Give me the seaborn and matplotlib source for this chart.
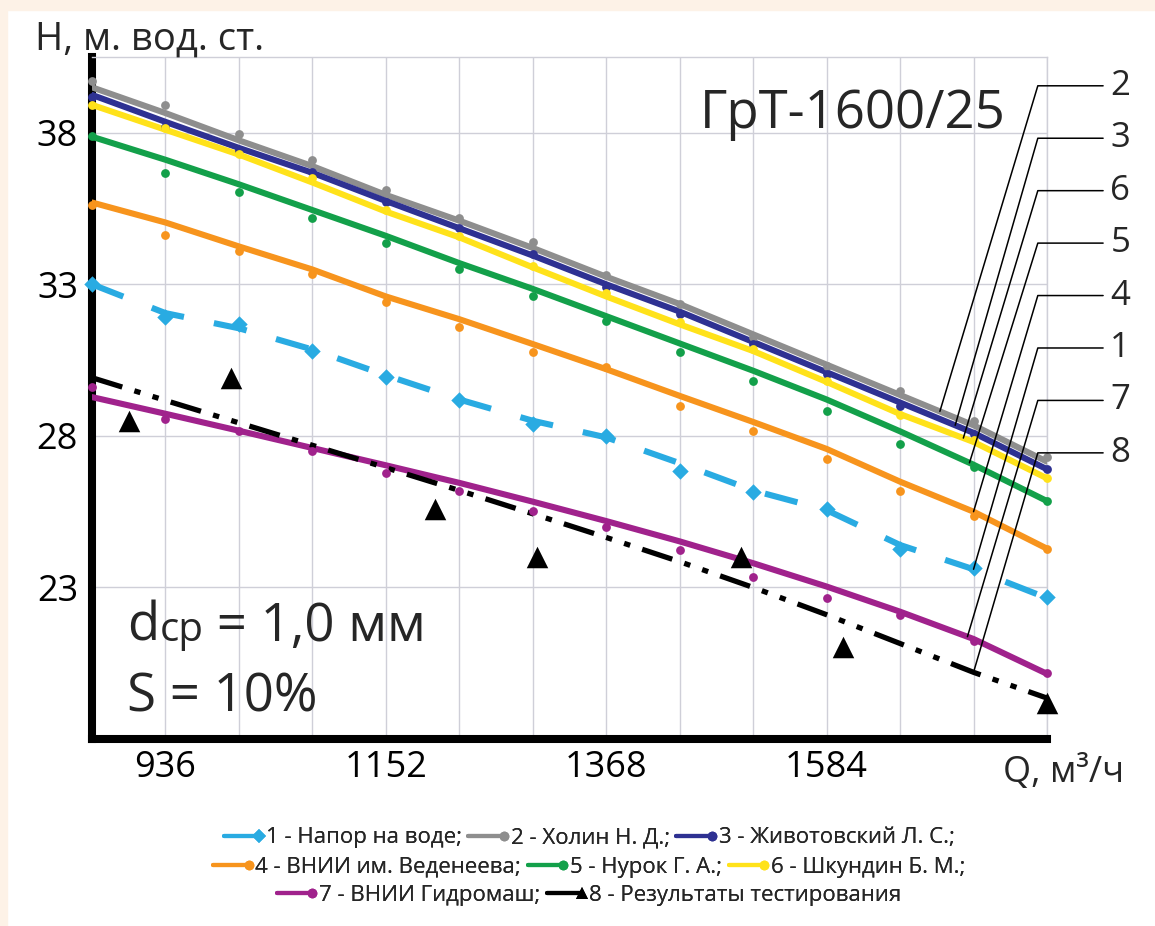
import numpy as np
import seaborn as sns
import matplotlib.pyplot as plt
from matplotlib.lines import Line2D
from matplotlib.legend_handler import HandlerLine2D
from matplotlib.patches import Rectangle
from matplotlib.offsetbox import TextArea, HPacker, AnchoredOffsetbox
from matplotlib.ticker import MultipleLocator

# подача, м3/ч
q = [864, 936, 1008, 1080, 1152, 1224, 1296, 1368, 1440, 1512, 1584, 1656, 1728, 1800]

# точки (маркеры)
pts1 = [33.0, 31.91, 31.68, 30.8, 29.94, 29.2, 28.39, 28.0, 26.85, 26.16, 25.6, 24.28, 23.65, 22.7]
pts2 = [39.7, 38.92, 37.95, 37.11, 36.1, 35.2, 34.41, 33.3, 32.34, 31.26, 30.3, 29.48, 28.49, 27.31]
pts3 = [39.18, 38.2, 37.44, 36.72, 35.73, 34.87, 33.99, 32.9, 32.01, 31.03, 30.04, 28.99, 28.07, 26.91]
pts4 = [35.63, 34.64, 34.09, 33.33, 32.43, 31.59, 30.76, 30.27, 28.99, 28.17, 27.24, 26.19, 25.37, 24.28]
pts5 = [37.9, 36.68, 36.03, 35.2, 34.38, 33.49, 32.6, 31.78, 30.76, 29.81, 28.82, 27.74, 26.98, 25.86]
pts6 = [38.92, 38.15, 37.3, 36.52, 35.45, 34.6, 33.6, 32.7, 31.75, 30.86, 29.8, 28.7, 27.85, 26.6]
pts7 = [29.6, 28.56, 28.16, 27.5, 26.78, 26.17, 25.53, 25.0, 24.22, 23.36, 22.64, 22.08, 21.22, 20.17]

# линии (аппроксимация)
line1 = [33.0, 32.05, 31.55, 30.85, 30.0, 29.2, 28.5, 27.95, 27.1, 26.2, 25.55, 24.4, 23.6, 22.65]
line2 = [39.5, 38.65, 37.75, 36.9, 35.95, 35.1, 34.2, 33.25, 32.35, 31.35, 30.35, 29.35, 28.35, 27.15]
line3 = [39.25, 38.36, 37.5, 36.68, 35.75, 34.85, 33.95, 33.0, 32.1, 31.1, 30.1, 29.1, 28.1, 26.9]
line4 = [35.7, 35.04, 34.25, 33.49, 32.6, 31.85, 31.03, 30.2, 29.32, 28.46, 27.57, 26.49, 25.5, 24.28]
line5 = [37.87, 37.11, 36.3, 35.45, 34.6, 33.7, 32.85, 31.95, 31.05, 30.15, 29.2, 28.15, 27.05, 25.85]
line6 = [38.92, 38.1, 37.28, 36.36, 35.4, 34.55, 33.56, 32.6, 31.68, 30.8, 29.78, 28.72, 27.8, 26.6]
line7 = [29.28, 28.73, 28.17, 27.6, 27.03, 26.45, 25.83, 25.19, 24.52, 23.8, 23.03, 22.2, 21.3, 20.15]
line8 = [29.92, 29.17, 28.43, 27.69, 26.95, 26.2, 25.43, 24.65, 23.85, 23.0, 22.1, 21.15, 20.2, 19.35]

# результаты тестирования
q8 = [900, 1000, 1200, 1300, 1500, 1600, 1800]
pts8 = [28.5, 29.9, 25.6, 24.0, 24.0, 21.05, 19.2]

labels = ['1 - Напор на воде;', '2 - Холин Н. Д.;', '3 - Животовский Л. С.;',
          '4 - ВНИИ им. Веденеева;', '5 - Нурок Г. А.;', '6 - Шкундин Б. М.;',
          '7 - ВНИИ Гидромаш;', '8 - Результаты тестирования']
colors = ['#29abe2', '#8e8e8e', '#2e3192', '#f7941d', '#13a04a', '#ffe21a', '#a0228c', '#000000']

sns.set_theme(style='white')
plt.rcParams['font.family'] = ['Open Sans', 'DejaVu Sans']

fig = plt.figure(figsize=(11.55, 9.26), dpi=100)
fig.patch.set_facecolor('white')
# кремовая рамка слева и сверху
fig.patches.append(Rectangle((0, 0), 7 / 1155, 1, transform=fig.transFigure, color='#fdf2e7', zorder=0))
fig.patches.append(Rectangle((0, 1 - 10 / 926), 1, 10 / 926, transform=fig.transFigure, color='#fdf2e7', zorder=0))

ax = fig.add_axes([92 / 1155, 1 - 739 / 926, 955 / 1155, 682 / 926])
ax.set_facecolor('white')

lw = 4.4
solid = [(line2, pts2, 1), (line6, pts6, 5), (line3, pts3, 2), (line5, pts5, 4), (line4, pts4, 3), (line7, pts7, 6)]
for vals, pts, i in solid:
    sns.lineplot(x=q, y=vals, color=colors[i], lw=lw, ax=ax, zorder=3 + i * 0.1)
    sns.scatterplot(x=q, y=pts, color=colors[i], marker='o', s=40, linewidth=0, ax=ax,
                    zorder=4 + i * 0.1, clip_on=False)

sns.lineplot(x=q, y=line1, color=colors[0], lw=lw, ax=ax, zorder=3, linestyle=(0, (5.5, 5.0)))
sns.scatterplot(x=q, y=pts1, color=colors[0], marker='D', s=70, linewidth=0, ax=ax, zorder=4, clip_on=False)

sns.lineplot(x=q, y=line8, color='black', lw=3.8, ax=ax, zorder=3.9,
             linestyle=(0, (6, 2.4, 1.2, 2.4, 1.2, 2.4)))
sns.scatterplot(x=q8, y=pts8, color='black', marker='^', s=240, linewidth=0, ax=ax, zorder=5, clip_on=False)

ax.set_xlim(864, 1800)
ax.set_ylim(18, 40.5)
ax.set_xticks([936, 1152, 1368, 1584])
ax.set_yticks([23, 28, 33, 38])
ax.xaxis.set_minor_locator(MultipleLocator(72))
ax.grid(which='both', axis='x', color='#cfcfd8', lw=1.0, zorder=0)
ax.grid(which='major', axis='y', color='#cfcfd8', lw=1.0, zorder=0)
ax.tick_params(which='both', length=0, labelsize=26, colors='black')
ax.tick_params(axis='x', pad=8)
ax.tick_params(axis='y', pad=10)
ax.set_xlabel('')
ax.set_ylabel('')

for s in ['left', 'bottom']:
    ax.spines[s].set_linewidth(5.8)
    ax.spines[s].set_color('black')
    ax.spines[s].set_zorder(2.5)
for s in ['top', 'right']:
    ax.spines[s].set_linewidth(1.0)
    ax.spines[s].set_color('#cfcfd8')

# подписи линий с выносками
lines_all = {1: line1, 2: line2, 3: line3, 4: line4, 5: line5, 6: line6, 7: line7, 8: line8}
order = [2, 3, 6, 5, 4, 1, 7, 8]
leader_q = {2: 1695, 3: 1710, 6: 1718, 5: 1724, 4: 1728, 1: 1728, 7: 1722, 8: 1728}
x_corner, x_end, x_text = 1791, 1855, 1862
y_top, y_step = 39.55, 1.73
for k, n in enumerate(order):
    yl = y_top - k * y_step
    xq = leader_q[n]
    yq = np.interp(xq, q, lines_all[n])
    ax.plot([xq, x_corner, x_end], [yq, yl, yl], color='black', lw=1.1, zorder=6, clip_on=False)
    ax.text(x_text, yl, str(n), fontsize=25, ha='left', va='center', clip_on=False)

ax.text(0.6366, 0.896, 'ГрТ-1600/25', transform=ax.transAxes, fontsize=38,
        ha='left', va='baseline')

box = HPacker(children=[TextArea('d', textprops=dict(fontsize=38)),
                        TextArea('ср', textprops=dict(fontsize=29)),
                        TextArea(' = 1,0 мм', textprops=dict(fontsize=38))],
              align='baseline', pad=0, sep=0)
ab = AnchoredOffsetbox(loc='lower left', child=box, pad=0, borderpad=0, frameon=False,
                       bbox_to_anchor=(0.037, 0.125), bbox_transform=ax.transAxes)
ax.add_artist(ab)
ax.text(0.037, 0.04, 'S = 10%', transform=ax.transAxes, fontsize=38, ha='left', va='baseline')

fig.text(35 / 1155, 1 - 50 / 926, 'Н, м. вод. ст.', fontsize=27.5, ha='left', va='baseline')
fig.text(1003 / 1155, 1 - 782 / 926, 'Q, м³/ч', fontsize=26, ha='left', va='baseline')


class EndMarker(HandlerLine2D):
    # маркер в конце отрезка, как в оригинале
    def create_artists(self, legend, orig_handle, xdescent, ydescent, width, height, fontsize, trans):
        arts = super().create_artists(legend, orig_handle, xdescent, ydescent, width, height, fontsize, trans)
        arts[0].set_markevery([2])
        return arts


markers = ['D', 'o', 'o', 'o', 'o', 'o', 'o', '^']
handles = [Line2D([], [], color=colors[i], lw=3, marker=markers[i],
                  markersize=7 if i < 7 else 9, markeredgewidth=0) for i in range(8)]
rows = [([0, 1, 2], 1 - 838 / 926), ([3, 4, 5], 1 - 867 / 926), ([6, 7], 1 - 895 / 926)]
for idx, yrow in rows:
    leg = fig.legend([handles[i] for i in idx], [labels[i] for i in idx], ncol=len(idx),
                     loc='center', bbox_to_anchor=(0.51, yrow), frameon=False, fontsize=16,
                     handlelength=1.6, handletextpad=0.3, columnspacing=0.3, borderpad=0,
                     borderaxespad=0, numpoints=1, handler_map={Line2D: EndMarker()})
    fig.add_artist(leg)

fig.savefig('out.png', dpi=100, facecolor=fig.get_facecolor())
